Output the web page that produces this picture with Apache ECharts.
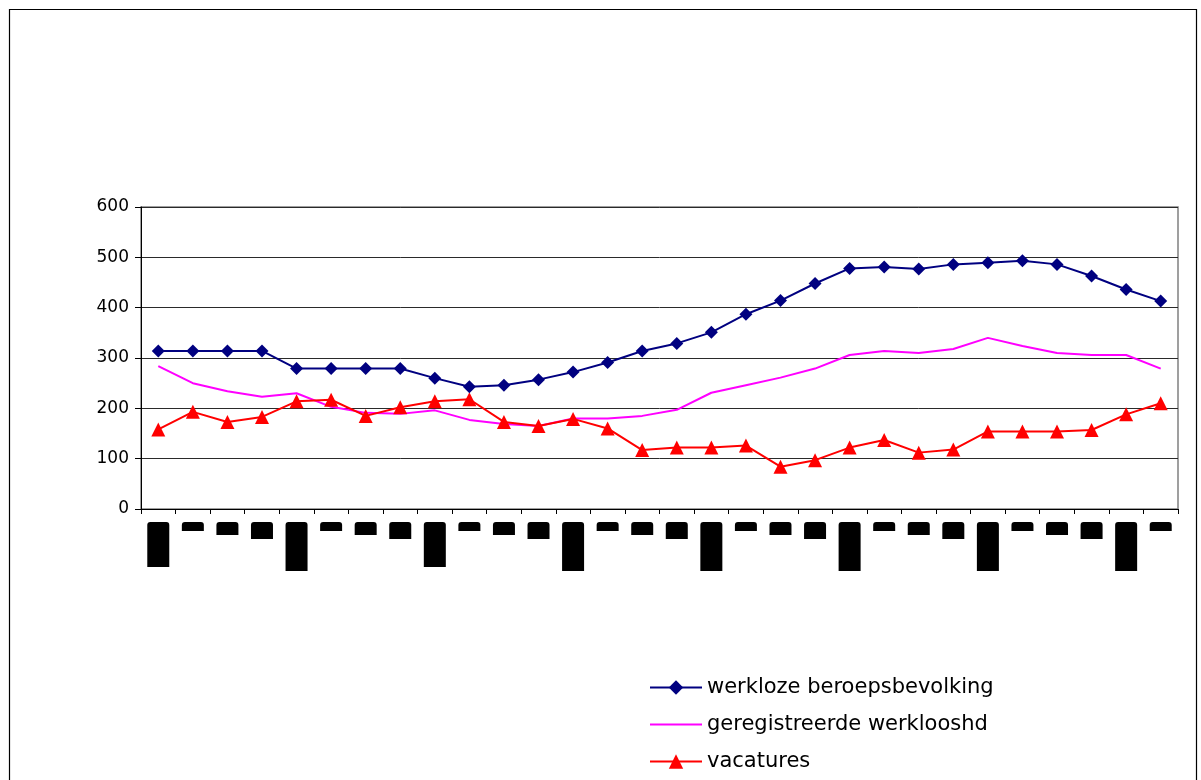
<!DOCTYPE html>
<html>
<head>
<meta charset="utf-8">
<script src="https://cdn.jsdelivr.net/npm/echarts@6/dist/echarts.min.js"></script>
<style>
html,body{margin:0;padding:0;background:#fff;}
#chart{width:1201px;height:780px;}
</style>
</head>
<body>
<div id="chart"></div>
<script>
var categories = ["1999 I","II","III","IV","2000 I","II","III","IV","2001 I","II","III","IV","2002 I","II","III","IV","2003 I","II","III","IV","2004 I","II","III","IV","2005 I","II","III","IV","2006 I","II"];
var werkloze = [314,314,314,314,279,279,279,279,260,243,246,257,272,291,314,329,351,387,414,448,478,481,477,486,489,493,486,463,436,413];
var geregistreerde = [284,250,234,223,230,203,191,189,196,177,169,165,180,180,185,197,231,246,261,279,306,314,310,318,340,324,310,306,306,279];
var vacatures = [158,193,173,183,214,217,185,202,214,218,173,165,179,160,117,122,122,126,84,97,122,137,112,118,154,154,154,157,188,210];
var seriesNames = ["werkloze beroepsbevolking","geregistreerde werklooshd","vacatures"];
var yTicks = [0,100,200,300,400,500,600];

var chart = echarts.init(document.getElementById('chart'));
var font = '"Liberation Sans", Arial, sans-serif';
var wideFont = '"DejaVu Sans", sans-serif';

function labelStyle(i){
  if (i % 4 === 0) return (i === 0 || i === 8) ? 'ya' : 'yb';
  if (i % 4 === 1) return 'q2';
  if (i % 4 === 2) return 'q3';
  return 'q4';
}
var boxBase = {width:22, backgroundColor:'#000', color:'#000', fontSize:6, fontFamily:font, borderRadius:[3,3,0,0], padding:0, align:'center', overflow:'truncate'};
function box(h){ var o = {}; for (var k in boxBase) o[k]=boxBase[k]; o.height=h; o.lineHeight=h; return o; }

chart.setOption({
  animation:false,
  backgroundColor:'#fff',
  graphic:[{
    type:'rect', shape:{x:9.5,y:9.5,width:1187,height:800},
    style:{fill:'none',stroke:'#000',lineWidth:1.2}, silent:true, z:-1
  }],
  grid:{left:141,top:207,right:23,bottom:271,show:true,borderColor:'#808080',borderWidth:1.5,backgroundColor:'transparent'},
  legend:{
    orient:'vertical', left:644, top:672, itemWidth:52, itemHeight:18, itemGap:16,
    textStyle:{fontSize:21,fontFamily:wideFont,color:'#000'},
    data:[
      {name:seriesNames[0]},
      {name:seriesNames[1], itemStyle:{opacity:0}},
      {name:seriesNames[2]}
    ]
  },
  xAxis:{
    type:'category', data:categories, boundaryGap:true,
    axisLine:{lineStyle:{color:'#000',width:1}},
    axisTick:{show:true,length:5,lineStyle:{color:'#000'},alignWithLabel:false},
    axisLabel:{
      interval:0, margin:13,
      formatter:function(v,i){ return '{' + labelStyle(i) + '|' + v + '}'; },
      rich:{ ya:box(45), yb:box(49), q2:box(9), q3:box(13), q4:box(17) }
    },
    splitLine:{show:false}
  },
  yAxis:{
    type:'value', min:0, max:600, interval:100,
    axisLine:{show:true,lineStyle:{color:'#000',width:1}},
    axisTick:{show:true,length:6,lineStyle:{color:'#000'}},
    axisLabel:{margin:12,fontSize:17,fontFamily:wideFont,color:'#000',
      formatter:function(v){ return yTicks.indexOf(v) >= 0 ? String(v) : ''; }},
    splitLine:{show:true,lineStyle:{color:'#2a2a2a',width:1}}
  },
  series:[
    {name:seriesNames[0],type:'line',data:werkloze,symbol:'diamond',symbolSize:13,
      lineStyle:{color:'#000080',width:2},itemStyle:{color:'#000080'},z:4},
    {name:seriesNames[1],type:'line',data:geregistreerde,symbol:'none',showSymbol:false,
      lineStyle:{color:'#FF00FF',width:2},itemStyle:{color:'#FF00FF'},z:2},
    {name:seriesNames[2],type:'line',data:vacatures,symbol:'triangle',symbolSize:14,
      lineStyle:{color:'#FF0000',width:2},itemStyle:{color:'#FF0000'},z:3}
  ]
});
</script>
</body>
</html>
